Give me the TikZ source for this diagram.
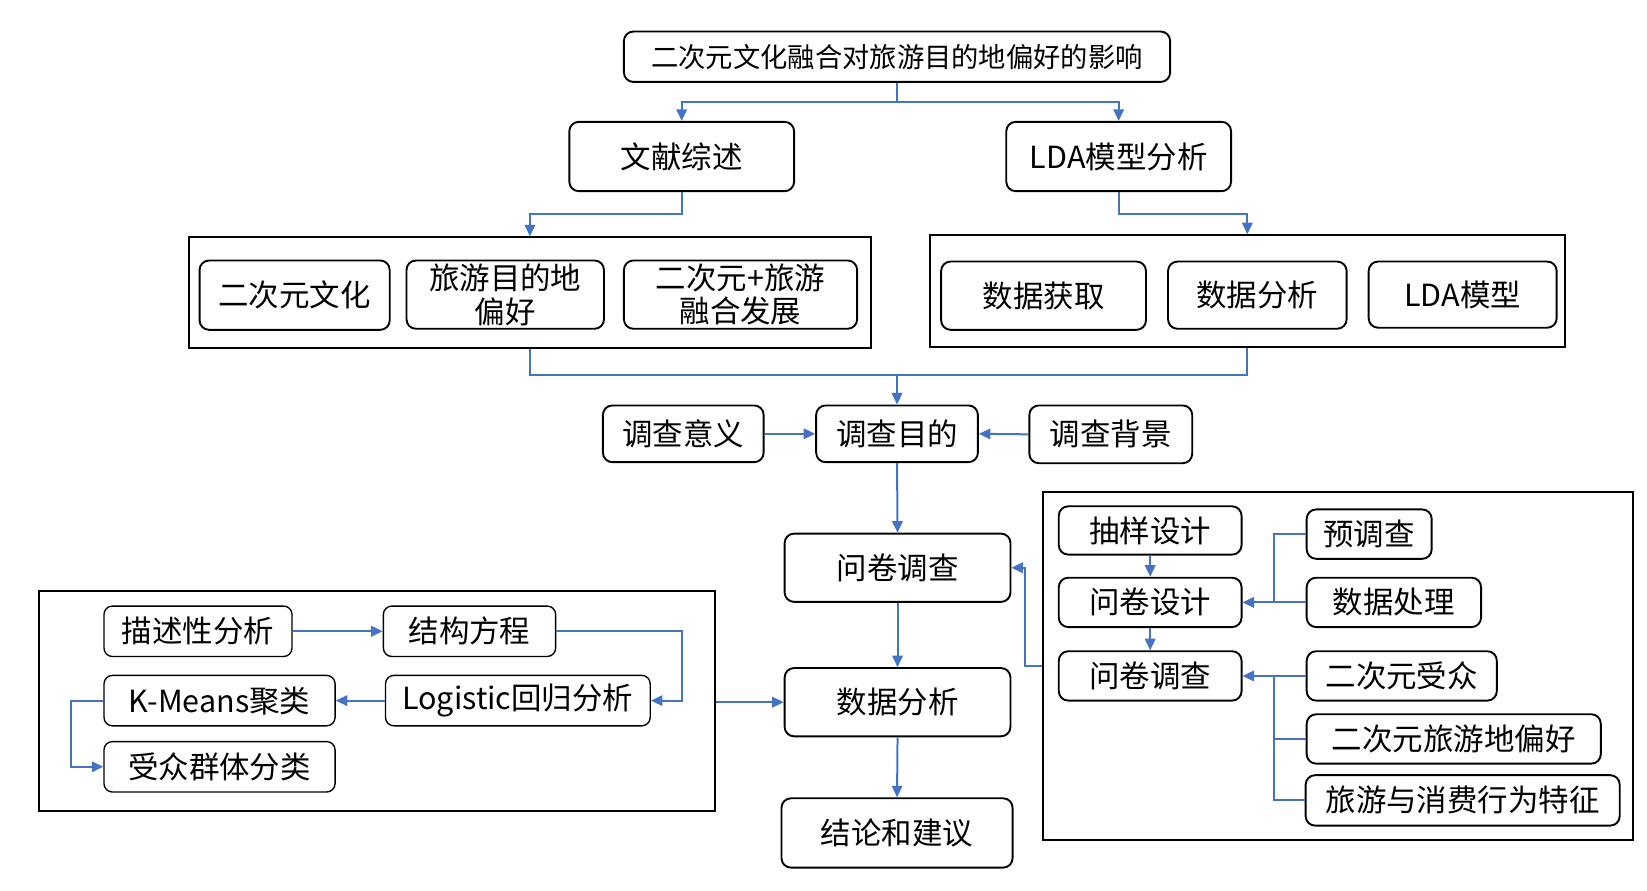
\documentclass[tikz,border=0pt]{standalone}
\usepackage{fontspec}
\newfontfamily\cjk{Noto Sans CJK SC}
\usetikzlibrary{arrows.meta,calc}
\definecolor{lnblue}{HTML}{4472C4}
\tikzset{
  basebox/.style={draw=black, rounded corners=9pt, inner sep=0pt, align=center,
    font=\cjk\fontsize{29}{33}\selectfont},
  bigbox/.style={basebox, line width=1.8pt},
  smallbox/.style={basebox, line width=1.3pt, rounded corners=8pt},
  grpbox/.style={draw=black, line width=2pt, inner sep=0pt},
  ln/.style={draw=lnblue, line width=1.9pt},
  arr/.style={ln, -{Triangle[length=11pt,width=10pt]}},
  sz/.style 2 args={minimum width=#1pt, minimum height=#2pt},
}
\begin{document}
\begin{tikzpicture}[x=1pt,y=-1pt]
\useasboundingbox (0,0) rectangle (1568,848);
% top level
\node[bigbox, sz={520}{48}, font=\cjk\fontsize{26}{30}\selectfont] (title) at (854,54) {二次元文化融合对旅游目的地偏好的影响};
\node[bigbox, sz={214}{66}] (wx) at (649,149) {文献综述};
\node[bigbox, sz={214}{66}] (lda) at (1065,149) {LDA模型分析};
% group 1
\node[grpbox, sz={649}{105}] (g1) at (504.5,278.5) {};
\node[bigbox, sz={181}{66}] (a1) at (280.5,281) {二次元文化};
\node[bigbox, sz={188}{65}, font=\cjk\fontsize{29}{32}\selectfont] (a2) at (481,280.5) {旅游目的地\\偏好};
\node[bigbox, sz={222}{65}, font=\cjk\fontsize{29}{32}\selectfont] (a3) at (705,280.5) {二次元+旅游\\融合发展};
% group 2
\node[grpbox, sz={605}{106}] (g2) at (1187.5,277) {};
\node[bigbox, sz={195}{65}] (b1) at (993.5,281.5) {数据获取};
\node[bigbox, sz={170}{64}] (b2) at (1197,281) {数据分析};
\node[bigbox, sz={179}{63}] (b3) at (1392.5,280.5) {LDA模型};
% middle column
\node[bigbox, sz={153}{54}] (yy) at (650.5,413) {调查意义};
\node[bigbox, sz={154}{54}] (md) at (854,413) {调查目的};
\node[bigbox, sz={155}{55}] (bj) at (1057.5,413.5) {调查背景};
\node[bigbox, sz={215}{65}] (wj) at (854.5,540.5) {问卷调查};
\node[bigbox, sz={215}{65}] (sj) at (854.5,668.5) {数据分析};
\node[bigbox, sz={220}{66}] (jl) at (854,793) {结论和建议};
% group 3
\node[grpbox, sz={644}{209}] (g3) at (359,667.5) {};
\node[smallbox, sz={179}{48}] (c1) at (188.5,601) {描述性分析};
\node[smallbox, sz={164}{48}] (c2) at (447,601) {结构方程};
\node[smallbox, sz={220}{48}] (c3) at (209,667) {K-Means聚类};
\node[smallbox, sz={252}{48}] (c4) at (493,667) {Logistic回归分析};
\node[smallbox, sz={220}{48}] (c5) at (209,730) {受众群体分类};
% group 4
\node[grpbox, sz={562}{332}] (g4) at (1274,634) {};
\node[bigbox, sz={174}{46}] (d1) at (1095,505) {抽样设计};
\node[bigbox, sz={174}{47}] (d2) at (1095,573.5) {问卷设计};
\node[bigbox, sz={174}{47}] (d3) at (1095,643.5) {问卷调查};
\node[bigbox, sz={119}{47}] (e1) at (1303.5,508.5) {预调查};
\node[bigbox, sz={166}{47}] (e2) at (1327,573.5) {数据处理};
\node[bigbox, sz={181}{47}] (e3) at (1334.5,643.5) {二次元受众};
\node[bigbox, sz={280}{47}] (e4) at (1384,703.5) {二次元旅游地偏好};
\node[bigbox, sz={299}{48}] (e5) at (1392.5,762) {旅游与消费行为特征};
% junction coordinates
\coordinate (t1) at (854,97);
\coordinate (j1) at (854,357);
\coordinate (k1) at (1213,573.5);
\coordinate (k2) at (1213,643.5);
% connectors
\draw[ln] (title.south) -- (t1);
\draw[arr] (t1) -| (wx.north);
\draw[arr] (t1) -| (lda.north);
\draw[arr] (wx.south) -- ++(0,21) -| (g1.north);
\draw[arr] (lda.south) -- ++(0,21) -| (g2.north);
\draw[ln] (g1.south) |- (j1);
\draw[ln] (g2.south) |- (j1);
\draw[arr] (j1) -- (md.north);
\draw[arr] (yy.east) -- (md.west);
\draw[arr] (bj.west) -- (md.east);
\draw[arr] (md.south) -- (wj.north);
\draw[arr] (wj.south) -- (sj.north);
\draw[arr] (sj.south) -- (jl.north);
% group 3 connectors
\draw[arr] (c1.east) -- (c2.west);
\draw[arr] (c2.east) -- ++(120,0) |- (c4.east);
\draw[arr] (c4.west) -- (c3.east);
\draw[arr] (c3.west) -- ++(-31,0) |- (c5.west);
\draw[arr] (g3.east |- sj.west) -- (sj.west);
% group 4 connectors
\draw[arr] (d1.south) -- (d2.north);
\draw[arr] (d2.south) -- (d3.north);
\draw[ln] (e1.west) -| (k1);
\draw[arr] (e2.west) -- (d2.east);
\draw[arr] (e3.west) -- (d3.east);
\draw[ln] (e4.west) -| (k2);
\draw[ln] (e5.west) -| (k2);
\draw[arr] (g4.west) -- ++(-16,0) |- (wj.east);
\end{tikzpicture}
\end{document}
